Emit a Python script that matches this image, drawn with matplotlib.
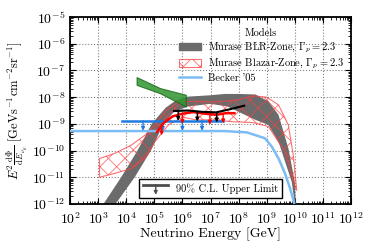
import numpy as np
import matplotlib
matplotlib.use('Agg')
import matplotlib.pyplot as plt
from matplotlib.patches import Patch, FancyArrowPatch
from matplotlib.lines import Line2D
from matplotlib.legend_handler import HandlerBase
from matplotlib.ticker import LogLocator, NullFormatter

plt.rcParams.update({
    'font.family': ['cmr10', 'DejaVu Serif'],
    'mathtext.fontset': 'cm',
    'axes.formatter.use_mathtext': True,
    'axes.unicode_minus': False,
    'hatch.linewidth': 0.6,
})

# Murase BLR-zone band (log10 E, log10 flux), upper and lower edges
blr_up_logE = [3.19, 3.82, 4.4, 4.91, 5.4, 5.8, 6.2, 7.0, 7.5, 8.0, 8.6, 9.06, 9.42, 9.77, 10.0, 10.03]
blr_up_logF = [-12, -11, -10, -9, -8.4, -8.1, -7.98, -7.93, -7.88, -7.88, -7.9, -8.16, -8.66, -9.91, -11.17, -12]
blr_lo_logE = [3.62, 4.3, 4.88, 5.32, 5.7, 6.2, 7.0, 7.6, 8.2, 8.6, 9.06, 9.42, 9.65, 9.89, 10.0]
blr_lo_logF = [-12, -11, -10, -9, -8.55, -8.35, -8.25, -8.35, -8.65, -8.85, -9.04, -9.67, -10.4, -11.17, -12]

# Murase blazar-zone band
blz_up_logE = [3.05, 3.6, 4.19, 4.67, 5.02, 5.38, 5.85, 6.5, 7.0, 7.5, 8.0, 8.5, 9.0, 9.42, 9.77, 9.95, 10.07]
blz_up_logF = [-10.3, -10.1, -9.79, -9.42, -9.04, -8.54, -8.18, -8.15, -8.18, -8.15, -8.1, -7.95, -8.0, -8.29, -9.04, -10.2, -11.5]
blz_lo_logE = [3.05, 3.6, 4.19, 4.67, 5.02, 5.5, 6.0, 6.5, 7.0, 7.8, 8.5, 9.06, 9.65, 10.0, 10.07]
blz_lo_logF = [-11.0, -10.85, -10.67, -10.29, -9.67, -9.04, -8.75, -8.85, -8.85, -8.92, -8.95, -9.1, -10.04, -11.3, -11.5]

# Becker '05
becker_logE = [2, 7.5, 8.3, 8.94, 9.18, 9.42, 9.65, 9.83, 9.95, 10.02]
becker_logF = [-9.27, -9.27, -9.32, -9.54, -9.85, -10.29, -10.85, -11.41, -11.85, -12.2]

# astrophysical fit (green bow-tie)
fit_logE = [4.37, 5.2, 6.12]
fit_up_logF = [-7.25, -7.66, -7.91]
fit_lo_logF = [-7.54, -7.85, -8.35]

# upper limits
blue_ul_logE = [3.85, 7.45]
blue_ul_logF = [-8.88, -8.88]
blue_arrow_logE = [4.6, 5.3, 6.0, 6.7]
blue_arrow_logF = [-8.88, -8.88, -8.88, -8.88]

red_ul_logE = [5.1, 5.35, 5.65, 6.0, 6.4, 6.8, 7.2, 7.55, 7.85]
red_ul_logF = [-9.3, -8.95, -8.72, -8.62, -8.56, -8.62, -8.66, -8.6, -8.6]
red_arrow_logE = [5.26, 6.0, 6.98, 7.45]
red_arrow_logF = [-9.05, -8.62, -8.65, -8.6]

blk_ul_logE = [5.7, 6.2, 6.7, 7.2, 7.7, 8.2]
blk_ul_logF = [-8.52, -8.5, -8.55, -8.57, -8.45, -8.32]
blk_arrow_logE = [5.85, 6.53, 7.22]
blk_arrow_logF = [-8.51, -8.53, -8.57]


def p(a):
    return 10.0 ** np.asarray(a, dtype=float)


def draw_limits(ax, xs, ys, color, z):
    for x, y in zip(p(xs), p(ys)):
        ax.annotate('', xy=(x, y * 10 ** -0.38), xytext=(x, y),
                    arrowprops=dict(arrowstyle='-|>', color=color, lw=1.0,
                                    mutation_scale=5, shrinkA=0, shrinkB=0),
                    zorder=z)


class UpperLimitHandler(HandlerBase):
    def create_artists(self, legend, orig_handle, xdescent, ydescent,
                       width, height, fontsize, trans):
        x0, y0 = -xdescent, -ydescent
        ytop = y0 + height * 1.05
        line = Line2D([x0, x0 + width], [ytop, ytop], color='0.3', lw=2,
                      transform=trans)
        arr = FancyArrowPatch((x0 + width / 2, ytop), (x0 + width / 2, y0 - height * 0.35),
                              arrowstyle='-|>', mutation_scale=5, color='0.3',
                              lw=1, shrinkA=0, shrinkB=0, transform=trans)
        return [line, arr]


fig = plt.figure(figsize=(3.74, 2.49), dpi=100)
ax = fig.add_axes([0.1872, 0.1807, 0.7513, 0.751])

gray = '0.42'
red_hatch = (1.0, 0.25, 0.25, 0.75)
light_blue = '#7cbcf4'
blue = '#1f7be0'

# bands
ax.fill(np.concatenate([p(blr_up_logE), p(blr_lo_logE)[::-1]]),
        np.concatenate([p(blr_up_logF), p(blr_lo_logF)[::-1]]),
        facecolor=gray, edgecolor='none', zorder=2)
ax.fill(np.concatenate([p(blz_up_logE), p(blz_lo_logE)[::-1]]),
        np.concatenate([p(blz_up_logF), p(blz_lo_logF)[::-1]]),
        facecolor='none', edgecolor=red_hatch, hatch='xx', lw=0.8, zorder=3)
ax.fill_between(p(fit_logE), p(fit_lo_logF), p(fit_up_logF),
                facecolor='#2f962f', edgecolor='#1d6b1d', alpha=0.85, lw=0.8, zorder=4)

# Becker
ax.plot(p(becker_logE), p(becker_logF), color=light_blue, lw=1.8, zorder=5)

# upper limits
ax.plot(p(blue_ul_logE), p(blue_ul_logF), color=blue, lw=1.8, zorder=6)
draw_limits(ax, blue_arrow_logE, blue_arrow_logF, blue, 6)
ax.plot(p(red_ul_logE), p(red_ul_logF), color='red', lw=1.8, zorder=7)
draw_limits(ax, red_arrow_logE, red_arrow_logF, 'red', 7)
ax.plot(p(blk_ul_logE), p(blk_ul_logF), color='black', lw=1.5, zorder=8)
draw_limits(ax, blk_arrow_logE, blk_arrow_logF, 'black', 8)

ax.set_xscale('log')
ax.set_yscale('log')
ax.set_xlim(1e2, 1e12)
ax.set_ylim(1e-12, 1e-5)
ax.xaxis.set_major_locator(LogLocator(base=10, numticks=20))
ax.yaxis.set_major_locator(LogLocator(base=10, numticks=20))
ax.xaxis.set_minor_locator(LogLocator(base=10, subs=np.arange(2, 10), numticks=200))
ax.yaxis.set_minor_locator(LogLocator(base=10, subs=np.arange(2, 10), numticks=200))
ax.xaxis.set_minor_formatter(NullFormatter())
ax.yaxis.set_minor_formatter(NullFormatter())
ax.tick_params(which='both', direction='in', top=True, right=True, labelsize=10)
ax.tick_params(axis='x', which='major', pad=5)
ax.tick_params(which='major', length=4, width=0.8)
ax.tick_params(which='minor', length=2, width=0.6)
for s in ax.spines.values():
    s.set_linewidth(1.3)
ax.grid(True, which='major', ls=':', color='0.5', lw=0.8)
ax.set_axisbelow(True)

ax.set_xlabel('Neutrino Energy [GeV]', fontsize=10, labelpad=0)
ax.set_ylabel(r'$E^2\frac{\mathrm{d}\Phi}{\mathrm{d}E_{\nu_\mu}}\;[\mathrm{GeV s^{-1} cm^{-2} sr^{-1}}]$',
              fontsize=9, labelpad=1)

model_handles = [
    Patch(facecolor=gray, edgecolor=gray),
    Patch(facecolor='none', edgecolor=red_hatch, hatch='xx', lw=0.8),
    Line2D([], [], color=light_blue, lw=1.8),
]
model_labels = [r'Murase BLR-Zone, $\Gamma_p = 2.3$',
                r'Murase Blazar-Zone, $\Gamma_p = 2.3$',
                "Becker '05"]
leg1 = ax.legend(model_handles, model_labels, title='Models', loc='upper right',
                 bbox_to_anchor=(1.0, 0.975), frameon=False, fontsize=7.5,
                 title_fontsize=7.5, handlelength=2.1, handletextpad=0.7,
                 labelspacing=0.2, borderpad=0.2)
ax.add_artist(leg1)

ul_handle = Line2D([], [])
leg2 = ax.legend([ul_handle], ['90% C.L. Upper Limit'], loc='lower center',
                 bbox_to_anchor=(0.5, 0.03), borderaxespad=0,
                 handler_map={ul_handle: UpperLimitHandler()},
                 fontsize=7.5, handlelength=2.4, handletextpad=0.7, fancybox=False,
                 framealpha=1, edgecolor='black', borderpad=0.4)
leg2.get_frame().set_linewidth(1.0)
leg2.set_zorder(10)

fig.savefig('out.png', dpi=100)
